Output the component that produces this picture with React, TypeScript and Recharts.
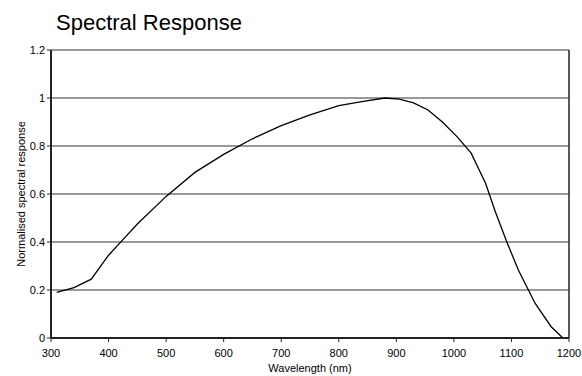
import React from 'react';
import { LineChart, Line, XAxis, YAxis, CartesianGrid, Label, ReferenceLine } from 'recharts';

// Longueurs d'onde (nm) et réponse normalisée
const wavelengths = [310, 340, 370, 400, 425, 450, 500, 550, 600, 650, 700, 750, 800, 840, 880, 905, 930, 955, 980, 1005, 1030, 1055, 1072, 1092, 1112, 1141, 1169, 1188];
const response = [0.19, 0.21, 0.245, 0.345, 0.41, 0.475, 0.59, 0.69, 0.765, 0.83, 0.885, 0.93, 0.968, 0.985, 1.0, 0.995, 0.98, 0.95, 0.9, 0.84, 0.77, 0.645, 0.526, 0.4, 0.283, 0.145, 0.047, 0.003];

const xTicks = [300, 400, 500, 600, 700, 800, 900, 1000, 1100, 1200];
const yTicks = [0, 0.2, 0.4, 0.6, 0.8, 1, 1.2];

const data = wavelengths.map((w, i) => ({ wavelength: w, value: response[i] }));

const font = 'Liberation Sans, Arial, sans-serif';

const App: React.FC = () => (
    <div style={{ position: 'fixed', left: 0, top: 0, width: 582, height: 376, background: '#fff', fontFamily: font }}>
        <div style={{ position: 'absolute', left: 56, top: 10, fontSize: 22, lineHeight: '25px', color: '#000' }}>Spectral Response</div>
        <LineChart width={582} height={376} data={data} margin={{ top: 50, right: 13, bottom: 14, left: 15 }}>
            <CartesianGrid yAxisId="left" vertical={false} stroke="#333" strokeWidth={1} />
            <XAxis
                dataKey="wavelength"
                type="number"
                domain={[300, 1200]}
                ticks={xTicks}
                interval={0}
                height={24}
                tickSize={4}
                tickMargin={7}
                axisLine={{ stroke: '#222', strokeWidth: 2 }}
                tickLine={{ stroke: '#222' }}
                tick={{ fill: '#000', fontSize: 11, fontFamily: font }}
            >
                <Label value="Wavelength (nm)" position="insideBottom" offset={-10} style={{ fill: '#000', fontSize: 11, fontFamily: font }} />
            </XAxis>
            <YAxis
                yAxisId="left"
                type="number"
                domain={[0, 1.2]}
                ticks={yTicks}
                interval={0}
                width={36}
                tickSize={4}
                tickMargin={2}
                axisLine={{ stroke: '#222', strokeWidth: 2 }}
                tickLine={{ stroke: '#222' }}
                tick={{ fill: '#000', fontSize: 11, fontFamily: font }}
            >
                <Label value="Normalised spectral response" angle={-90} position="insideLeft" offset={6} style={{ textAnchor: 'middle', fill: '#000', fontSize: 11, fontFamily: font }} />
            </YAxis>
            {/* cadre droit de la zone de tracé */}
            <ReferenceLine yAxisId="left" x={1200} stroke="#222" strokeWidth={1.5} />
            <Line
                yAxisId="left"
                type="linear"
                dataKey="value"
                stroke="#000"
                strokeWidth={1.3}
                dot={false}
                isAnimationActive={false}
            />
        </LineChart>
    </div>
);

export default App;
